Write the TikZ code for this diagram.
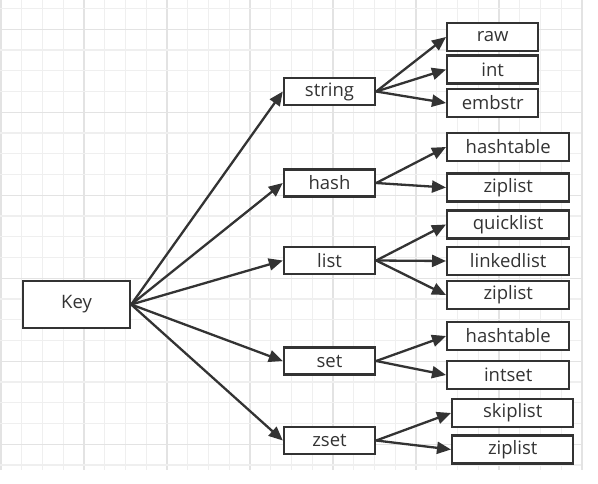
\documentclass[tikz,border=0pt]{standalone}
\usepackage{fontspec}
\setmainfont{Open Sans}
\usepackage{xcolor}
\usepackage{tikz}
\usetikzlibrary{arrows.meta, positioning}
\definecolor{ink}{HTML}{333333}
\definecolor{gridminor}{HTML}{EFEFEF}
\definecolor{gridmajor}{HTML}{E3E3E3}
\tikzset{
  block/.style={rectangle, draw=ink, fill=white, line width=2.4pt, text=ink, minimum width=91pt, minimum height=28pt, inner sep=0pt, font=\fontsize{18.5}{20}\selectfont},
  wideblock/.style={block, minimum width=122pt},
  keyblock/.style={block, minimum width=107pt, minimum height=47pt},
  arrow/.style={-{Triangle[length=14pt, width=12pt]}, line width=2.3pt, draw=ink}
}

\begin{document}
\begin{tikzpicture}[x=1pt, y=-1pt]
  \useasboundingbox (0,0) rectangle (598,483);
  \fill[white] (0,0) rectangle (598,483);
  % grid paper
  \foreach \i in {0,...,28} {
    \pgfmathsetmacro{\gx}{1+20.75*\i}
    \ifnum\numexpr\i-(\i/4)*4\relax=0
      \draw[gridmajor, line width=1.3pt] (\gx,0) -- (\gx,470);
    \else
      \draw[gridminor, line width=1.1pt] (\gx,0) -- (\gx,470);
    \fi
  }
  \foreach \j in {0,...,22} {
    \pgfmathsetmacro{\gy}{8.5+20.75*\j}
    \draw[gridminor, line width=1.1pt] (0,\gy) -- (581,\gy);
  }
  \foreach \j in {0,...,5} {
    \pgfmathsetmacro{\gy}{29.25+83*\j}
    \draw[gridmajor, line width=1.3pt] (0,\gy) -- (581,\gy);
  }
  % key and types
  \node[keyblock] (key) at (76.5,304.5) {Key};
  \node[block, minimum height=27pt] (string) at (329.5,91.5) {string};
  \node[block, minimum height=27pt] (hash) at (329.5,183) {hash};
  \node[block, minimum height=27pt] (list) at (329.5,260.5) {list};
  \node[block, minimum height=27pt] (set) at (329.5,361) {set};
  \node[block, minimum height=27pt] (zset) at (329.5,440.5) {zset};
  % encodings
  \node[block, anchor=west] (raw) at (446,37) {raw};
  \node[block, anchor=west] (int) at (446,69.5) {int};
  \node[block, anchor=west] (embstr) at (446,103) {embstr};
  \node[wideblock, anchor=west] (hashtable1) at (446,147) {hashtable};
  \node[wideblock, anchor=west] (ziplist1) at (446,187.5) {ziplist};
  \node[wideblock, anchor=west] (quicklist) at (446,224.5) {quicklist};
  \node[wideblock, anchor=west] (linkedlist) at (446,261) {linkedlist};
  \node[wideblock, anchor=west] (ziplist2) at (446,295) {ziplist};
  \node[wideblock, anchor=west] (hashtable2) at (446,336) {hashtable};
  \node[wideblock, anchor=west] (intset) at (446,375) {intset};
  \node[wideblock, anchor=west, minimum width=121pt] (skiplist) at (451,413) {skiplist};
  \node[wideblock, anchor=west, minimum width=121pt] (ziplist3) at (451,449.5) {ziplist};
  % arrows
  \foreach \t in {string, hash, list, set, zset}
    \draw[arrow] (key.east) -- (\t.west);
  \foreach \t in {raw, int, embstr}
    \draw[arrow] (string.east) -- (\t.west);
  \foreach \t in {hashtable1, ziplist1}
    \draw[arrow] (hash.east) -- (\t.west);
  \foreach \t in {quicklist, linkedlist, ziplist2}
    \draw[arrow] (list.east) -- (\t.west);
  \foreach \t in {hashtable2, intset}
    \draw[arrow] (set.east) -- (\t.west);
  \foreach \t in {skiplist, ziplist3}
    \draw[arrow] (zset.east) -- (\t.west);
\end{tikzpicture}
\end{document}
